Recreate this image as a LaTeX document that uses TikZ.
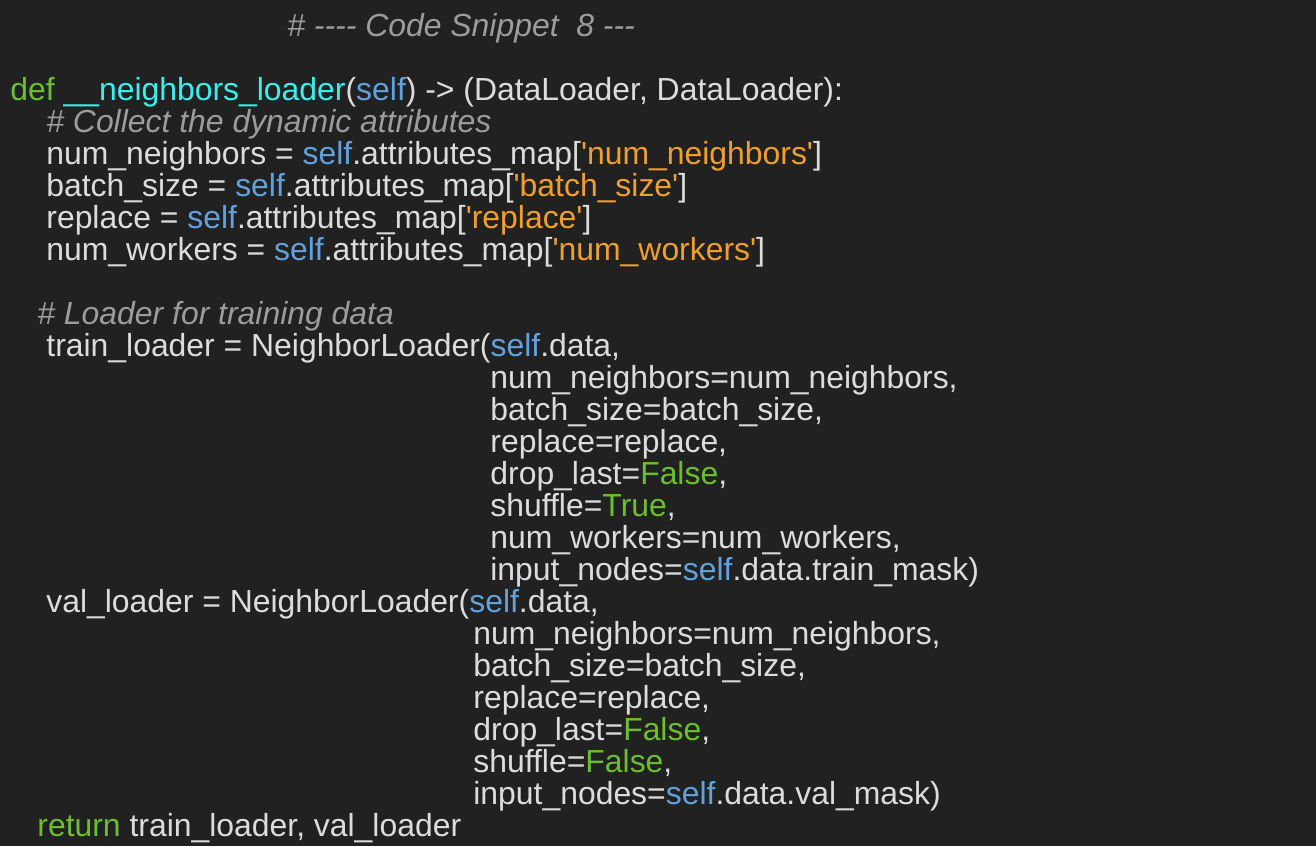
\documentclass[tikz,border=0pt]{standalone}
\usepackage{fontspec}
\setmainfont{Liberation Sans}[Ligatures={TeXOff,CommonOff}]
\definecolor{bgcol}{HTML}{212121}
\definecolor{plaincol}{HTML}{DCDCDC}
\definecolor{commentcol}{HTML}{9C9C9C}
\definecolor{kwcol}{HTML}{6CBF2C}
\definecolor{fncol}{HTML}{38F0F0}
\definecolor{selfcol}{HTML}{62A2DC}
\definecolor{strcol}{HTML}{F0A02A}
\newcommand{\kwd}[1]{\textcolor{kwcol}{#1}}
\newcommand{\fname}[1]{\textcolor{fncol}{#1}}
\newcommand{\selfc}{\textcolor{selfcol}{self}}
\newcommand{\strc}[1]{\textcolor{strcol}{'#1'}}
\tikzset{codeline/.style={%
        anchor=base west,
        inner sep=0pt,
        text=plaincol,
        font=\fontsize{15.95}{16}\selectfont}}
\tikzset{comment/.style={codeline,
        text=commentcol,
        font=\fontsize{15.95}{16}\selectfont\itshape}}

\begin{document}
\begin{tikzpicture}[x=0.5pt,y=-0.5pt]
  \fill [bgcol] (0,0) rectangle (1316,846);
  \useasboundingbox (0,0) rectangle (1316,846);
  \node [comment] (title) at (287,36) {\# ---- Code Snippet\ \ 8 ---};
  \node [codeline] (def) at (10,100) {\kwd{def} \fname{\_\_neighbors\_loader}(\selfc) -> (DataLoader, DataLoader):};
  \node [comment] (c1) at (46,132) {\# Collect the dynamic attributes};
  \node [codeline] (a1) at (46,164) {num\_neighbors = \selfc.attributes\_map[\strc{num\_neighbors}]};
  \node [codeline] (a2) at (46,196) {batch\_size = \selfc.attributes\_map[\strc{batch\_size}]};
  \node [codeline] (a3) at (46,228) {replace = \selfc.attributes\_map[\strc{replace}]};
  \node [codeline] (a4) at (46,260) {num\_workers = \selfc.attributes\_map[\strc{num\_workers}]};
  \node [comment] (c2) at (37,324) {\# Loader for training data};
  % training loader
  \node [codeline] (t0) at (46,356) {train\_loader = NeighborLoader(\selfc.data,};
  \node [codeline] (t1) at (490,388) {num\_neighbors=num\_neighbors,};
  \node [codeline] (t2) at (490,420) {batch\_size=batch\_size,};
  \node [codeline] (t3) at (490,452) {replace=replace,};
  \node [codeline] (t4) at (490,484) {drop\_last=\kwd{False},};
  \node [codeline] (t5) at (490,516) {shuffle=\kwd{True},};
  \node [codeline] (t6) at (490,548) {num\_workers=num\_workers,};
  \node [codeline] (t7) at (490,580) {input\_nodes=\selfc.data.train\_mask)};
  % validation loader
  \node [codeline] (v0) at (46,612) {val\_loader = NeighborLoader(\selfc.data,};
  \node [codeline] (v1) at (473,644) {num\_neighbors=num\_neighbors,};
  \node [codeline] (v2) at (473,676) {batch\_size=batch\_size,};
  \node [codeline] (v3) at (473,708) {replace=replace,};
  \node [codeline] (v4) at (473,740) {drop\_last=\kwd{False},};
  \node [codeline] (v5) at (473,772) {shuffle=\kwd{False},};
  \node [codeline] (v6) at (473,804) {input\_nodes=\selfc.data.val\_mask)};
  \node [codeline] (ret) at (37,836) {\kwd{return} train\_loader, val\_loader};
\end{tikzpicture}
\end{document}
